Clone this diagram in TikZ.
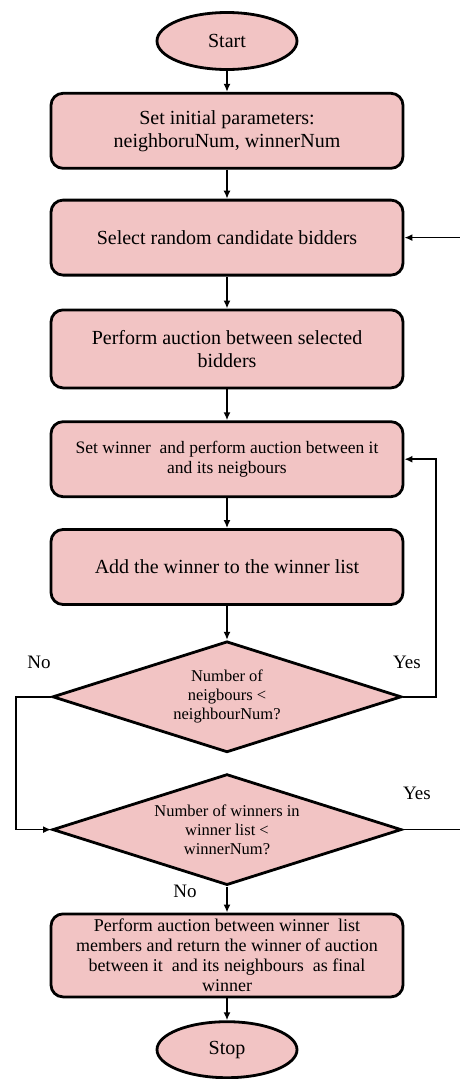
\documentclass[tikz,border=0pt]{standalone}
\usepackage{fontspec}
\setmainfont{Liberation Serif}
\usetikzlibrary{shapes, arrows.meta, positioning}
\definecolor{boxpink}{RGB}{242,196,196}

\begin{document}
\begin{tikzpicture}[>={Latex[length=8pt, width=7pt]}, x=1pt, y=1pt,
    terminal/.style={draw, ellipse, fill=boxpink, line width=2.8pt, minimum width=140pt, minimum height=57pt, font=\fontsize{20}{23}\selectfont},
    process/.style={draw, rectangle, rounded corners=12pt, fill=boxpink, line width=2.8pt, minimum width=352pt, minimum height=75pt, align=center, font=\fontsize{20}{23}\selectfont},
    decision/.style={draw, diamond, aspect=3.1, fill=boxpink, line width=2.8pt, minimum width=349pt, minimum height=111pt, inner sep=0pt, align=center, font=\fontsize{16.5}{19}\selectfont},
    flow/.style={->, line width=1.6pt},
    answer/.style={font=\fontsize{19}{22}\selectfont}]
    \useasboundingbox (0,0) rectangle (459,-1079);

    \node[terminal] (start) at (227,-41) {Start};
    \node[process, below=21pt of start] (init) {Set initial parameters:\\ neighboruNum, winnerNum};
    \node[process, below=29pt of init] (select) {Select random candidate bidders};
    \node[process, below=32pt of select, minimum height=78pt] (auction) {Perform auction between selected\\ bidders};
    \node[process, below=31pt of auction, font=\fontsize{17.5}{20}\selectfont] (setwin) {Set winner \ and perform auction between it\\ and its neigbours};
    \node[process, below=30pt of setwin] (addwin) {Add the winner to the winner list};
    \node[decision, below=34pt of addwin] (neigh) {Number of\\ neigbours <\\ neighbourNum?};
    \node[decision, below=19pt of neigh] (count) {Number of winners in\\ winner list <\\ winnerNum?};
    \node[process, below=26pt of count, minimum height=83pt, font=\fontsize{18}{20}\selectfont] (final) {Perform auction between winner \ list\\ members and return the winner of auction\\ between it \ and its neighbours \ as final\\ winner};
    \node[terminal, below=22pt of final, minimum height=56pt] (stop) {Stop};

    % free ends at the right border
    \coordinate[right=56pt of select.east] (loopin);
    \coordinate[right=57pt of count.east] (exit);

    \path[flow] (start) edge (init);
    \path[flow] (init) edge (select);
    \path[flow] (select) edge (auction);
    \path[flow] (auction) edge (setwin);
    \path[flow] (setwin) edge (addwin);
    \path[flow] (addwin) edge (neigh);
    \path[flow] (count) edge (final);
    \path[flow] (final) edge (stop);
    \path[flow] (loopin) edge (select);
    \draw[flow] (neigh.east) -- ++(33,0) |- (setwin.east);
    \draw[flow] (neigh.west) -- ++(-35,0) |- (count.west);
    \draw[line width=1.6pt] (count.east) -- (exit);

    \node[answer] (no1) at ([shift={(-12,34)}]neigh.west) {No};
    \node[answer] (yes1) at ([shift={(4,34)}]neigh.east) {Yes};
    \node[answer] (yes2) at ([shift={(14,36)}]count.east) {Yes};
    \node[answer] (no2) at ([shift={(-42,-5)}]count.south) {No};
\end{tikzpicture}
\end{document}
